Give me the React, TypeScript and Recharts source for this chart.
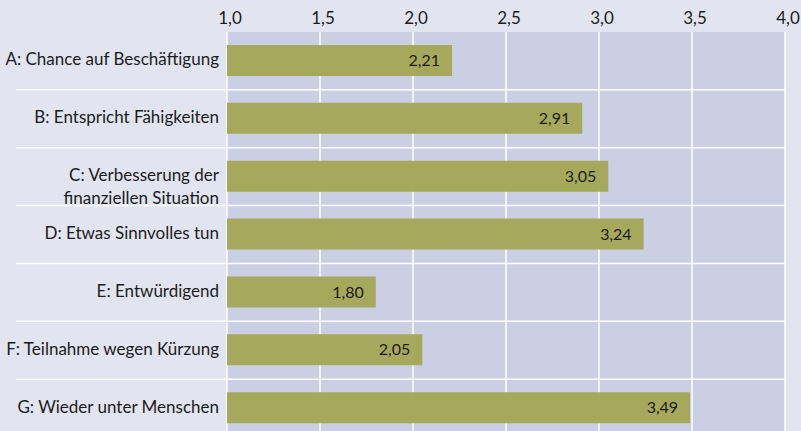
import React from "react";
import {
  BarChart,
  Bar,
  XAxis,
  YAxis,
  CartesianGrid,
  LabelList,
} from "recharts";

const categories = [
  "A: Chance auf Beschäftigung",
  "B: Entspricht Fähigkeiten",
  "C: Verbesserung der\nfinanziellen Situation",
  "D: Etwas Sinnvolles tun",
  "E: Entwürdigend",
  "F: Teilnahme wegen Kürzung",
  "G: Wieder unter Menschen",
];
const values = [2.21, 2.91, 3.05, 3.24, 1.8, 2.05, 3.49];
const xTicks = [1, 1.5, 2, 2.5, 3, 3.5, 4];
const gridTicks = [1.5, 2, 2.5, 3, 3.5];

const data = categories.map((name, i) => ({ name, value: values[i] }));

const FONT = "Lato, 'Open Sans', sans-serif";
const TEXT = "#1c1c1c";
const fmt = (v: number) => v.toFixed(2).replace(".", ",");
const fmtTick = (v: number) => v.toFixed(1).replace(".", ",");

const CategoryTick = (props: any) => {
  const { x, y, payload } = props;
  const lines = String(payload.value).split("\n");
  const half = typeof payload.offset === "number" ? payload.offset : 0;
  const sepY = y + half;
  return (
    <g>
      {half > 0 && (
        <line x1={16} y1={sepY} x2={785} y2={sepY} stroke="#ffffff" strokeWidth={1.5} />
      )}
      <text x={x} y={y} textAnchor="end" fill={TEXT} fontSize={17} fontFamily={FONT}>
        {lines.map((l, i) => (
          <tspan key={i} x={x} dy={i === 0 ? 4.5 : 23}>
            {l}
          </tspan>
        ))}
      </text>
    </g>
  );
};

const TopTick = (props: any) => {
  const { x, y, payload } = props;
  return (
    <text x={x + 3} y={y} textAnchor="middle" fill={TEXT} fontSize={17} fontFamily={FONT}>
      {fmtTick(payload.value)}
    </text>
  );
};

export default function App() {
  return (
    <div
      style={{
        position: "absolute",
        left: 0,
        top: 0,
        width: 801,
        height: 431,
        overflow: "hidden",
        background: "#e2e4f0",
      }}
    >
      <BarChart
        width={801}
        height={437}
        data={data}
        layout="vertical"
        margin={{ top: 0, right: 16, bottom: 0, left: 0 }}
      >
        <XAxis
          type="number"
          orientation="top"
          domain={[1, 4]}
          ticks={xTicks}
          axisLine={false}
          tickLine={false}
          height={32}
          interval={0}
          tick={<TopTick />}
        />
        <XAxis
          xAxisId="grid"
          type="number"
          domain={[1, 4]}
          ticks={gridTicks}
          allowDataOverflow
          hide
        />
        <YAxis
          type="category"
          dataKey="name"
          width={227}
          axisLine={false}
          tickLine={false}
          interval={0}
          tick={<CategoryTick />}
        />
        <CartesianGrid
          xAxisId="grid"
          horizontal={false}
          fill="#cbcfe3"
          fillOpacity={1}
          stroke="#ffffff"
          strokeWidth={1.5}
        />
        <Bar dataKey="value" fill="#a6a95b" barSize={31} isAnimationActive={false}>
          <LabelList
            dataKey="value"
            position="insideRight"
            offset={12}
            formatter={(v: any) => fmt(Number(v))}
            fill={TEXT}
            fontSize={16}
            fontFamily={FONT}
          />
        </Bar>
      </BarChart>
    </div>
  );
}
